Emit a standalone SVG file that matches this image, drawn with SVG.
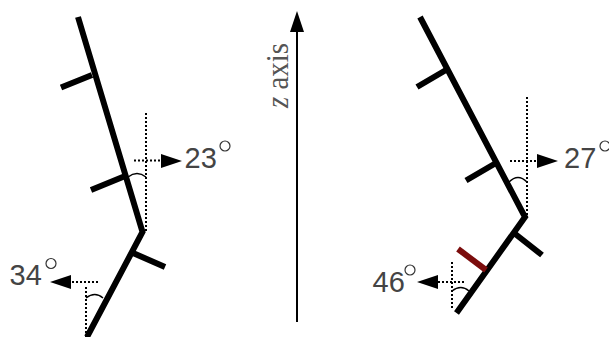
<svg xmlns="http://www.w3.org/2000/svg" width="609" height="337" viewBox="0 0 609 337">
<style>
.chain{fill:none;stroke:#000;stroke-width:6;stroke-linejoin:miter}
.tick{fill:none;stroke:#000;stroke-width:6}
.red{fill:none;stroke:#7b0c0c;stroke-width:6}
.dot{fill:none;stroke:#000;stroke-width:2;stroke-dasharray:2 2}
.arc{fill:none;stroke:#000;stroke-width:1.5}
.head{fill:#000}
.deg{fill:none;stroke:#333;stroke-width:1.2}
.lab{font-family:"Liberation Sans",Arial,sans-serif;font-size:29px;fill:#444}
.ax{font-family:"Liberation Serif","Times New Roman",serif;font-size:31px;fill:#555}
</style>
<rect width="609" height="337" fill="#fff"/>
<g id="connectors">
<path class="dot" d="M146 113V232M134 160.500H160"/>
<path class="arc" d="M128 177Q137 170 146 177"/>
<path class="dot" d="M86 287V337M72 282H98"/>
<path class="arc" d="M86 298Q95 291 103 298"/>
<path class="dot" d="M527 97V217M510 161H536"/>
<path class="arc" d="M509 182Q518 173 527 182"/>
<path class="dot" d="M452 262V310M438 282H464"/>
<path class="arc" d="M452 291Q461 284 469 291"/>
<path d="M297 322V30" fill="none" stroke="#000" stroke-width="2"/>
</g>
<g id="left-chain">
<path class="chain" d="M78 17L142.500 232L87 337"/>
<path class="tick" d="M61 87.500L92 75M91 190L124 176.500M133 253L165 267"/>
<path class="head" d="M161 154L182 161L161 168Z"/>
<path class="head" d="M71 275L50 282L71 289Z"/>
</g>
<g id="right-chain">
<path class="chain" d="M420 17L525 217L456.500 313"/>
<path class="tick" d="M417 87L446 70M466 180.500L496 163M514 233L542 255"/>
<path class="red" d="M458 249L486 270"/>
<path class="head" d="M537 154L558 161L537 168Z"/>
<path class="head" d="M438 275L417 282L438 289Z"/>
</g>
<g id="axis">
<path class="head" d="M297 11L304 32H290Z"/>
<text class="ax" transform="translate(288 108) rotate(-90)" textLength="65" lengthAdjust="spacingAndGlyphs"><tspan font-style="italic">z</tspan> axis</text>
</g>
<g id="label-23"><text class="lab" x="184.500" y="167.500">23</text><circle class="deg" cx="225" cy="146" r="5"/></g>
<g id="label-34"><text class="lab" x="9.500" y="285">34</text><circle class="deg" cx="51" cy="263.500" r="5"/></g>
<g id="label-27"><text class="lab" x="564" y="168">27</text><circle class="deg" cx="605" cy="146" r="5"/></g>
<g id="label-46"><text class="lab" x="372.500" y="292">46</text><circle class="deg" cx="410" cy="270" r="5"/></g>
</svg>
